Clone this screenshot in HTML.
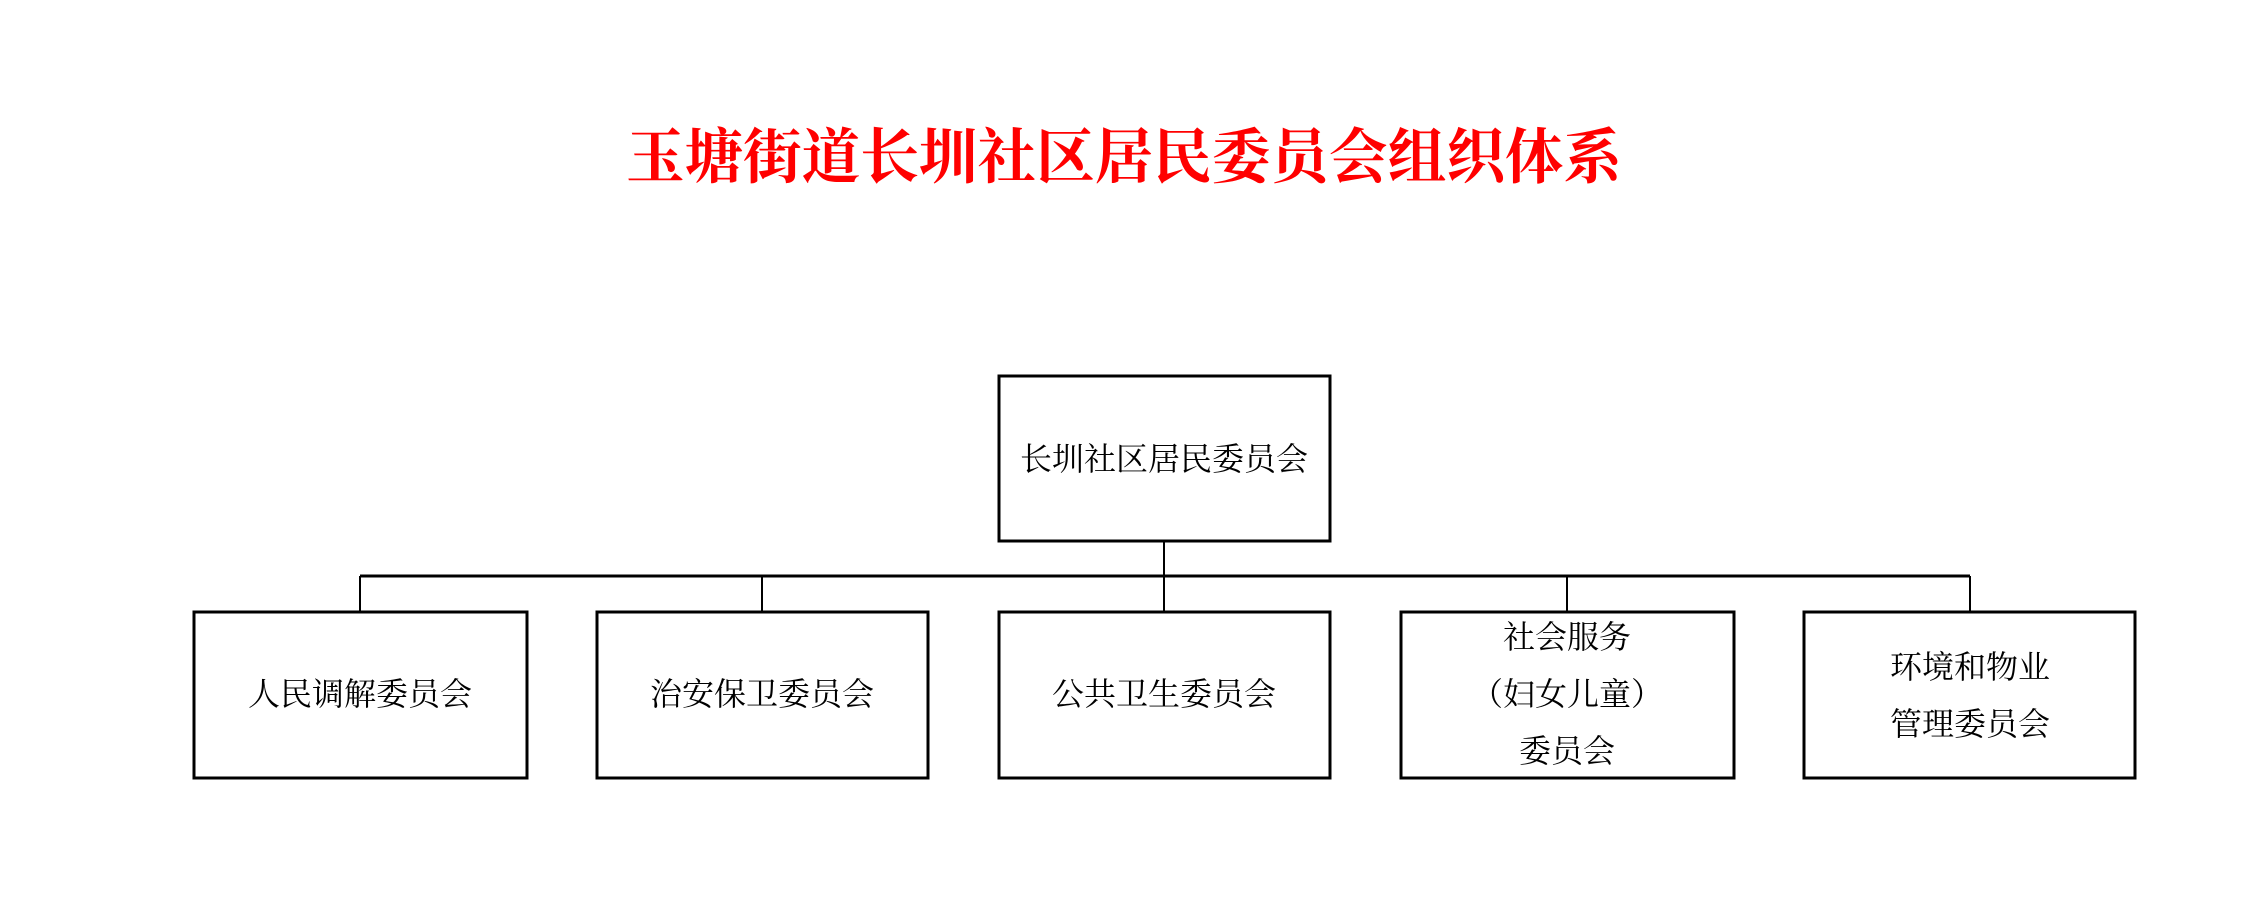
<!DOCTYPE html>
<html><head><meta charset="utf-8"><style>html,body{margin:0;padding:0;background:#fff}</style></head>
<body>
<svg width="2245" height="908" xmlns="http://www.w3.org/2000/svg" style="display:block">
<rect width="2245" height="908" fill="#fff"/>
<text x="1124" y="178" text-anchor="middle" font-family="'Liberation Serif','Noto Serif CJK SC',serif" font-weight="bold" font-size="60" fill="#ff0000" textLength="996" lengthAdjust="spacingAndGlyphs">玉塘街道长圳社区居民委员会组织体系</text>
<g fill="none" stroke="#000" stroke-width="3">
<rect x="999" y="376" width="331" height="165"/>
<rect x="194" y="612" width="333" height="166"/>
<rect x="597" y="612" width="331" height="166"/>
<rect x="999" y="612" width="331" height="166"/>
<rect x="1401" y="612" width="333" height="166"/>
<rect x="1804" y="612" width="331" height="166"/>
</g>
<g stroke="#000" stroke-width="2">
<line x1="1164" y1="541" x2="1164" y2="612"/>
<line x1="360" y1="576" x2="1970" y2="576" stroke-width="3"/>
<line x1="360" y1="576" x2="360" y2="612"/>
<line x1="762" y1="576" x2="762" y2="612"/>
<line x1="1567" y1="576" x2="1567" y2="612"/>
<line x1="1970" y1="576" x2="1970" y2="612"/>
</g>
<g font-family="'Liberation Serif','Noto Serif CJK SC',serif" font-size="32" fill="#000" text-anchor="middle">
<text x="1164" y="470">长圳社区居民委员会</text>
<text x="360" y="705">人民调解委员会</text>
<text x="762" y="705">治安保卫委员会</text>
<text x="1164" y="705">公共卫生委员会</text>
<text x="1567" y="648">社会服务</text>
<text x="1567" y="705">（妇女儿童）</text>
<text x="1567" y="762">委员会</text>
<text x="1970" y="678">环境和物业</text>
<text x="1970" y="735">管理委员会</text>
</g>
</svg>
</body></html>
